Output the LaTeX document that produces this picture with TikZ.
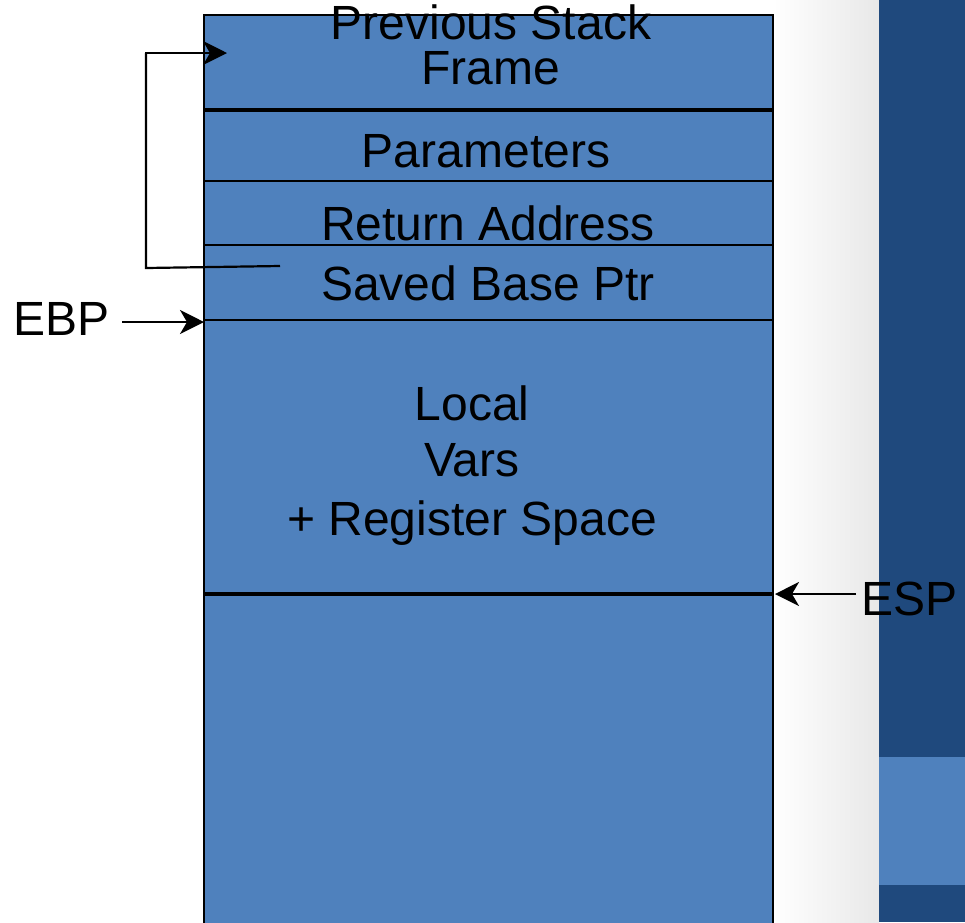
\documentclass[tikz,border=0pt]{standalone}
\usepackage{fontspec}
\setmainfont{Liberation Sans}
\usetikzlibrary{arrows.meta}
\definecolor{cellblue}{HTML}{4F81BD}
\definecolor{bandblue}{HTML}{1F497D}
\begin{document}
\begin{tikzpicture}[x=1pt,y=-1pt,
  lbl/.style={font=\fontsize{48}{57}\selectfont, inner sep=0pt, anchor=base},
  divider/.style={line width=2.2pt},
  thickdivider/.style={line width=4pt},
  ptr/.style={line width=2.2pt, -{Stealth[length=24pt,width=24pt,inset=7pt]}},
  link/.style={line width=2.2pt},
]
\useasboundingbox (0,0) rectangle (965,922);
\begin{scope}
  \clip (0,0) rectangle (965,922);
  % slide background and side band
  \fill[white] (0,0) rectangle (965,922);
  \shade[left color=white, right color=black!9] (773,0) rectangle (879,922);
  \fill[bandblue] (879,0) rectangle (965,922);
  \fill[cellblue] (879,757) rectangle (965,885);

  % the stack
  \draw[line width=2.6pt, fill=cellblue] (204,15) rectangle (773,940);
  \coordinate (prevL) at (204,110);   \coordinate (prevR) at (773,110);
  \coordinate (parL) at (204,181);    \coordinate (parR) at (773,181);
  \coordinate (retL) at (204,245);    \coordinate (retR) at (773,245);
  \coordinate (ebpline) at (204,320); \coordinate (ebpR) at (773,320);
  \coordinate (esplineL) at (204,594);\coordinate (espline) at (773,594);
  \draw[thickdivider] (prevL) -- (prevR);
  \draw[divider] (parL) -- (parR);
  \draw[divider] (retL) -- (retR);
  \draw[divider] (ebpline) -- (ebpR);
  \draw[thickdivider] (esplineL) -- (espline);

  % cell labels
  \node[lbl] (prev1) at (491,39) {Previous Stack};
  \node[lbl] (prev2) at (491,84) {Frame};
  \node[lbl] (params) at (486,167) {Parameters};
  \node[lbl] (ret) at (488,240) {Return Address};
  \node[lbl] (saved) at (488,300) {Saved Base Ptr};
  \node[lbl] (loc1) at (472,420) {Local};
  \node[lbl] (loc2) at (472,476) {Vars};
  \node[lbl] (loc3) at (472,535) {+ Register Space};

  % saved base pointer links back to the previous frame
  \coordinate (savedlink) at (280,266);
  \coordinate (prevlink) at (227,53);
  \draw[link] (savedlink) -- (146,268) -- (146,53);
  \draw[ptr] (145,53) -- (prevlink);

  % register pointers
  \node[lbl, anchor=base west] (ebp) at (13,335) {EBP};
  \coordinate (ebptail) at (122,322);
  \draw[ptr] (ebptail) -- (ebpline |- ebptail);
  \node[lbl, anchor=base west] (esp) at (861,615) {ESP};
  \coordinate (esptail) at (856,594);
  \draw[ptr] (esptail) -- ([xshift=2pt]espline);
\end{scope}
\end{tikzpicture}
\end{document}
